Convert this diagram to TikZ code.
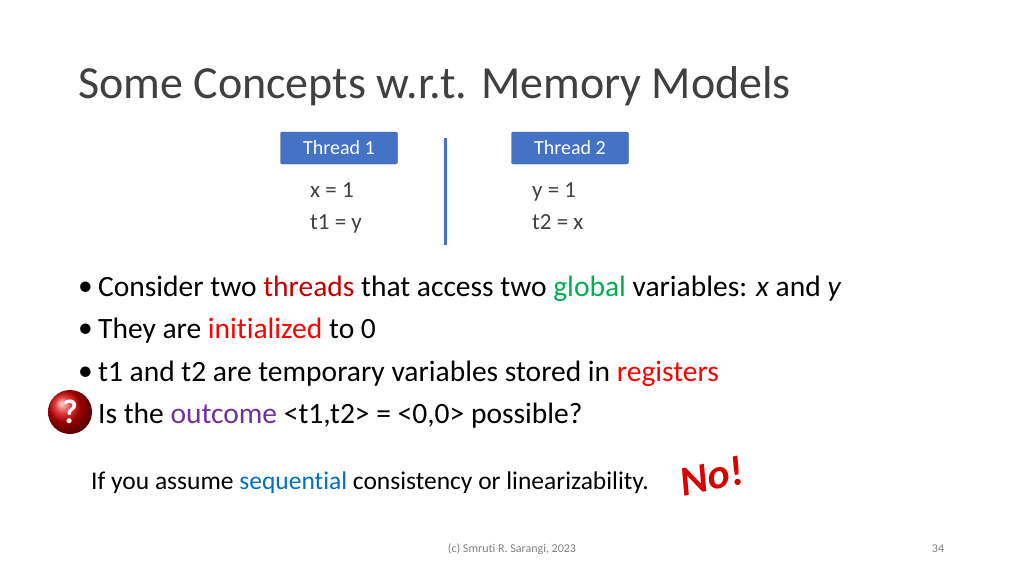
\documentclass[tikz,border=0pt]{standalone}
\usepackage{fontspec}
\setmainfont[RawFeature=-liga]{Carlito}
\usetikzlibrary{shapes.geometric}
\definecolor{tblue}{HTML}{4472C4}
\definecolor{dred}{HTML}{C00000}
\definecolor{gr}{HTML}{00B050}
\definecolor{rd}{HTML}{FF0000}
\definecolor{pu}{HTML}{7030A0}
\definecolor{sb}{HTML}{0070C0}
\definecolor{tg}{HTML}{404040}
\tikzset{x=1pt,y=-1pt,
 thr/.style={draw=tblue!80!black,fill=tblue,text=white,rounded corners=2pt,minimum width=117pt,minimum height=32pt,font=\fontsize{20}{22}\selectfont},
 code/.style={anchor=north west,align=left,font=\fontsize{23}{32}\selectfont,text=tg,inner sep=0},
 bul/.style={anchor=west,font=\fontsize{29.5}{32}\selectfont,text=black,inner sep=0}}
\begin{document}
\begin{tikzpicture}
\useasboundingbox[fill=white] (0,0) rectangle (1024,576);
\node[anchor=west,inner sep=0,text=tg,font=\fontsize{46}{50}\selectfont] (title) at (78,86) {Some Concepts w.r.t. Memory Models};
\node[thr] (t1) at (339,148) {Thread 1};
\node[thr] (t2) at (570,148) {Thread 2};
\draw[tblue,line width=3pt] (445,138) -- (445,245);
\node[code] (c1) at (310,182) {x = 1\\t1 = y};
\node[code] (c2) at (532,182) {y = 1\\t2 = x};
\foreach \yy/\nm in {289/p1,331/p2,374/p3}{\node[bul] (\nm) at (78,\yy) {•};}
\node[bul] (b1) at (98,289) {Consider two \textcolor{dred}{threads} that access two \textcolor{gr}{global} variables: \textit{x} and \textit{y}};
\node[bul] (b2) at (98,331) {They are \textcolor{rd}{initialized} to 0};
\node[bul] (b3) at (98,374) {t1 and t2 are temporary variables stored in \textcolor{rd}{registers}};
\node[bul] (b4) at (98,416) {Is the \textcolor{pu}{outcome} <t1,t2> = <0,0> possible?};
\shade[ball color=red!85!black] (70,412) circle (22);
\node[text=white,font=\bfseries\fontsize{34}{34}\selectfont] (q) at (70,412) {?};
\node[anchor=west,inner sep=0,font=\fontsize{25.5}{28}\selectfont] (s) at (91,483) {If you assume \textcolor{sb}{sequential} consistency or linearizability.};
\node[rotate=12,text=red!85!black,font=\bfseries\itshape\fontsize{42}{42}\selectfont,inner sep=0pt] (no) at (712,476) {No!};
\node[font=\fontsize{12}{13}\selectfont,text=gray] (ft) at (512,549) {(c) Smruti R. Sarangi, 2023};
\node[font=\fontsize{12}{13}\selectfont,text=gray] (pg) at (938,549) {34};
\end{tikzpicture}
\end{document}
